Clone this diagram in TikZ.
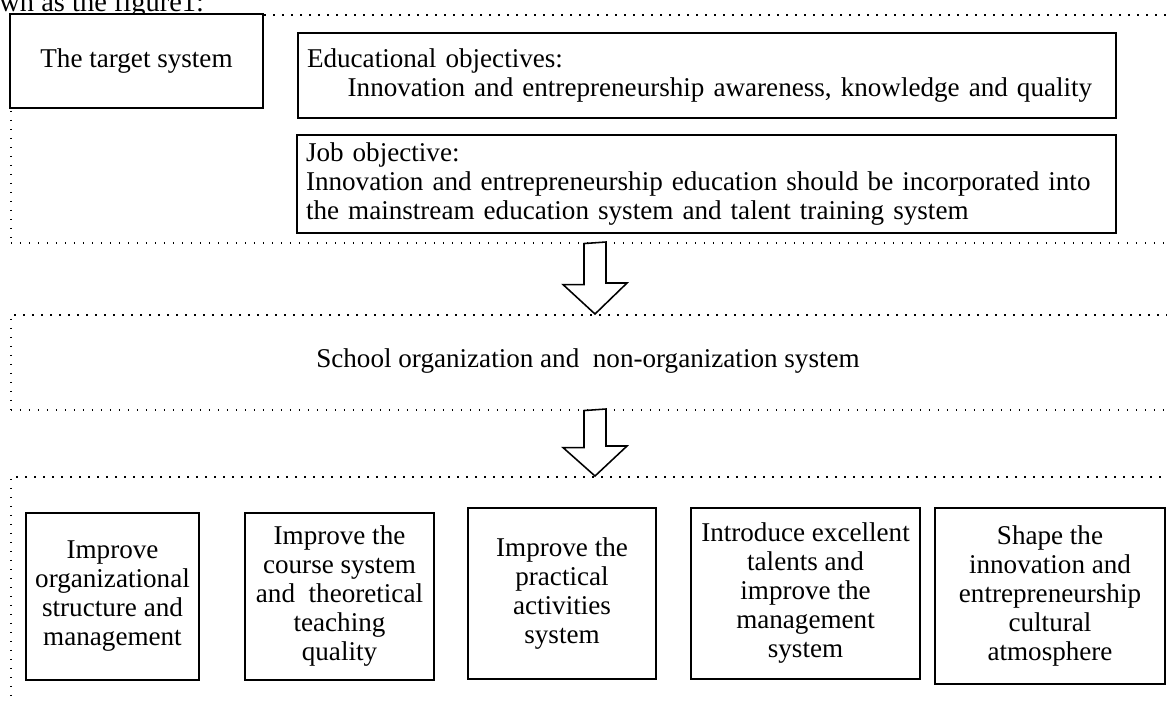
\documentclass[tikz,border=0pt]{standalone}
\usepackage{fontspec}
\setmainfont{Liberation Serif}
\usetikzlibrary{positioning}

\def\pxu{0.45pt}

\begin{document}
\begin{tikzpicture}[x=0.45pt, y=-0.45pt,
        every node/.style={font=\fontsize{12.2}{13.05}\selectfont},
        box/.style={draw, line width=0.7pt, align=center, inner sep=0pt},
        frame/.style={draw, dash pattern=on 0.7pt off 3.35pt, line width=0.7pt, anchor=north west, inner sep=0pt},
        blockarr/.style={draw, line width=0.7pt, fill=white, line join=miter}]

        \useasboundingbox (0,0) rectangle (1167,700);
        \clip (0,0) rectangle (1167,700);

        % line of the page text, cut at the top
        \node[anchor=base west, inner sep=0pt, font=\fontsize{12.8}{14}\selectfont] (caption) at (-1,12) {wn as the figure1:};

        % dotted frames
        \node[frame, minimum width=1170*\pxu, minimum height=228*\pxu] (goal) at (10,14) {};
        \node[frame, minimum width=1170*\pxu, minimum height=95*\pxu] (school) at (10,314) {};
        \node[frame, minimum width=1170*\pxu, minimum height=250*\pxu] (measures) at (10,476) {};

        % target system
        \node[box, fill=white, minimum width=253*\pxu, minimum height=94*\pxu] (target) at (136.5,61) {The target system};
        \node[box, align=left, text width=800*\pxu, inner xsep=9*\pxu, minimum height=85*\pxu] (edu) at (707,75.5)
            {Educational objectives:\\\hspace*{1.5em}Innovation and entrepreneurship awareness, knowledge and quality};
        \node[box, align=left, text width=801*\pxu, inner xsep=9*\pxu, minimum height=98*\pxu] (job) at (706.5,184)
            {Job objective:\\Innovation and entrepreneurship education should be incorporated into\\the mainstream education system and talent training system};

        \node (schooltxt) at (588,361) {School organization and~ non-organization system};

        % block arrows
        \coordinate (ax) at (595,0);
        \foreach \from/\to/\shaft/\head in {goal/school/41/31, school/measures/37/30}
            \draw[blockarr] (\from.south -| ax) ++(-11,0) -- ++(0,\shaft) -- ++(-21,0)
                -- (\to.north -| ax) -- ++(32,-\head) -- ++(-21,0) -- ++(0,-\shaft) -- cycle;

        % measures
        \foreach \nm/\cx/\cy/\bw/\bh/\txt in {
            org/112.5/596.5/173/167/{Improve\\organizational\\structure and\\management},
            course/339.5/596.5/189/167/{Improve the\\course system\\and~ theoretical\\teaching\\quality},
            practice/562/593.5/188/171/{Improve the\\practical\\activities\\system},
            talent/805.5/593.5/229/171/{Introduce excellent\\talents and\\improve the\\management\\system},
            culture/1050/596/230/176/{Shape the\\innovation and\\entrepreneurship\\cultural\\atmosphere}}
            \node[box, minimum width=\bw*\pxu, minimum height=\bh*\pxu] (\nm) at (\cx,\cy) {\txt};

\end{tikzpicture}
\end{document}
